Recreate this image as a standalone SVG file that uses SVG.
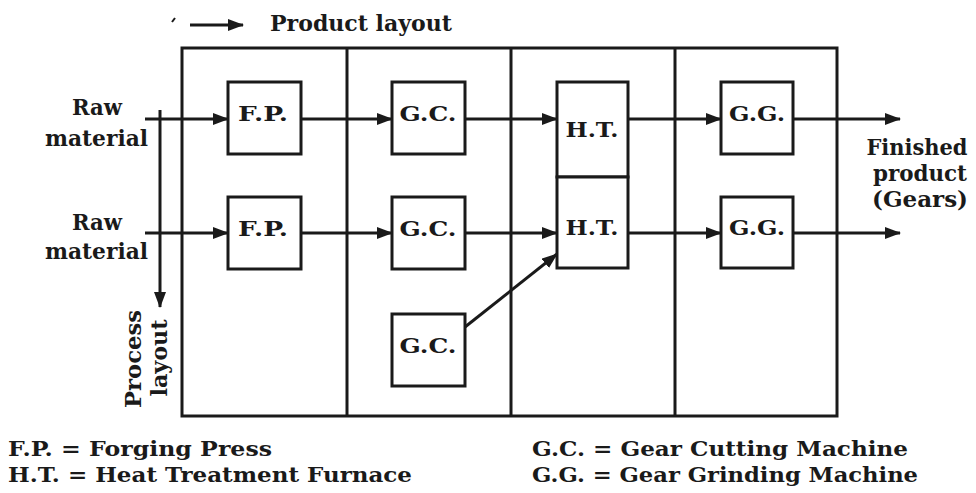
<svg xmlns="http://www.w3.org/2000/svg" width="976" height="493" viewBox="0 0 976 493">
<style>
.ln{stroke:#1a1a1a;stroke-width:3;fill:none}
.bx{stroke:#1a1a1a;stroke-width:3;fill:#fff}
.t{font-family:"DejaVu Serif","Liberation Serif",serif;font-weight:bold;fill:#1a1a1a}
.lb{font-size:21px;text-anchor:middle}
.sd{font-size:22px}
.lg{font-size:21px}
</style>
<defs>
<marker id="ah" markerWidth="16" markerHeight="12" refX="15" refY="6" orient="auto" markerUnits="userSpaceOnUse">
<path d="M0,0 L16,6 L0,12 Z" fill="#1a1a1a"/>
</marker>
</defs>
<rect width="976" height="493" fill="#fff"/>
<g id="frame">
<rect class="ln" x="182" y="48" width="655" height="368"/>
<line class="ln" x1="347" y1="48" x2="347" y2="416"/>
<line class="ln" x1="511" y1="48" x2="511" y2="416"/>
<line class="ln" x1="675" y1="48" x2="675" y2="416"/>
</g>
<g id="connectors">
<line class="ln" x1="145" y1="119" x2="228" y2="119" marker-end="url(#ah)"/>
<line class="ln" x1="301" y1="119" x2="392" y2="119" marker-end="url(#ah)"/>
<line class="ln" x1="465" y1="119" x2="557" y2="119" marker-end="url(#ah)"/>
<line class="ln" x1="628" y1="119" x2="721" y2="119" marker-end="url(#ah)"/>
<line class="ln" x1="793" y1="119" x2="900" y2="119" marker-end="url(#ah)"/>
<line class="ln" x1="145" y1="233" x2="228" y2="233" marker-end="url(#ah)"/>
<line class="ln" x1="301" y1="233" x2="392" y2="233" marker-end="url(#ah)"/>
<line class="ln" x1="465" y1="233" x2="557" y2="233" marker-end="url(#ah)"/>
<line class="ln" x1="628" y1="233" x2="721" y2="233" marker-end="url(#ah)"/>
<line class="ln" x1="793" y1="233" x2="900" y2="233" marker-end="url(#ah)"/>
<line class="ln" x1="465" y1="327" x2="557" y2="254" marker-end="url(#ah)"/>
<line class="ln" x1="160" y1="110" x2="160" y2="307" marker-end="url(#ah)"/>
<line class="ln" x1="190" y1="25" x2="243" y2="25" marker-end="url(#ah)"/>
<line x1="172" y1="22" x2="175" y2="18" stroke="#1a1a1a" stroke-width="2"/>
</g>
<g id="fp1"><rect class="bx" x="228" y="82" width="73" height="72"/><text class="t lb" x="263" y="121" textLength="50" lengthAdjust="spacingAndGlyphs">F.P.</text></g>
<g id="gc1"><rect class="bx" x="392" y="82" width="73" height="72"/><text class="t lb" x="428" y="121" textLength="57" lengthAdjust="spacingAndGlyphs">G.C.</text></g>
<g id="ht1"><rect class="bx" x="557" y="82" width="71" height="95"/><text class="t lb" x="592" y="137" textLength="53" lengthAdjust="spacingAndGlyphs">H.T.</text></g>
<g id="gg1"><rect class="bx" x="721" y="82" width="72" height="72"/><text class="t lb" x="757" y="121" textLength="56" lengthAdjust="spacingAndGlyphs">G.G.</text></g>
<g id="fp2"><rect class="bx" x="228" y="197" width="73" height="72"/><text class="t lb" x="263" y="236" textLength="50" lengthAdjust="spacingAndGlyphs">F.P.</text></g>
<g id="gc2"><rect class="bx" x="392" y="197" width="73" height="72"/><text class="t lb" x="428" y="236" textLength="57" lengthAdjust="spacingAndGlyphs">G.C.</text></g>
<g id="ht2"><rect class="bx" x="557" y="177" width="71" height="91"/><text class="t lb" x="592" y="235" textLength="53" lengthAdjust="spacingAndGlyphs">H.T.</text></g>
<g id="gg2"><rect class="bx" x="721" y="197" width="72" height="71"/><text class="t lb" x="757" y="235" textLength="56" lengthAdjust="spacingAndGlyphs">G.G.</text></g>
<g id="gc3"><rect class="bx" x="392" y="314" width="73" height="72"/><text class="t lb" x="428" y="353" textLength="57" lengthAdjust="spacingAndGlyphs">G.C.</text></g>
<g id="labels">
<text class="t sd" x="270" y="31" textLength="182" lengthAdjust="spacingAndGlyphs">Product layout</text>
<text class="t sd" x="97" y="115" text-anchor="middle" textLength="50" lengthAdjust="spacingAndGlyphs">Raw</text>
<text class="t sd" x="148" y="146" text-anchor="end" textLength="103" lengthAdjust="spacingAndGlyphs">material</text>
<text class="t sd" x="97" y="230" text-anchor="middle" textLength="50" lengthAdjust="spacingAndGlyphs">Raw</text>
<text class="t sd" x="148" y="259" text-anchor="end" textLength="103" lengthAdjust="spacingAndGlyphs">material</text>
<text class="t sd" x="917" y="155" text-anchor="middle" textLength="101" lengthAdjust="spacingAndGlyphs">Finished</text>
<text class="t sd" x="920" y="181" text-anchor="middle" textLength="94" lengthAdjust="spacingAndGlyphs">product</text>
<text class="t sd" x="920" y="207" text-anchor="middle" textLength="96" lengthAdjust="spacingAndGlyphs">(Gears)</text>
<text class="t sd" transform="translate(141,359) rotate(-90)" text-anchor="middle" textLength="98" lengthAdjust="spacingAndGlyphs">Process</text>
<text class="t sd" transform="translate(167,358) rotate(-90)" text-anchor="middle" textLength="77" lengthAdjust="spacingAndGlyphs">layout</text>
</g>
<g id="legend">
<text class="t lg" x="8" y="456" textLength="264" lengthAdjust="spacingAndGlyphs">F.P. = Forging Press</text>
<text class="t lg" x="8" y="482" textLength="404" lengthAdjust="spacingAndGlyphs">H.T. = Heat Treatment Furnace</text>
<text class="t lg" x="532" y="456" textLength="376" lengthAdjust="spacingAndGlyphs">G.C. = Gear Cutting Machine</text>
<text class="t lg" x="532" y="482" textLength="386" lengthAdjust="spacingAndGlyphs">G.G. = Gear Grinding Machine</text>
</g>
</svg>
